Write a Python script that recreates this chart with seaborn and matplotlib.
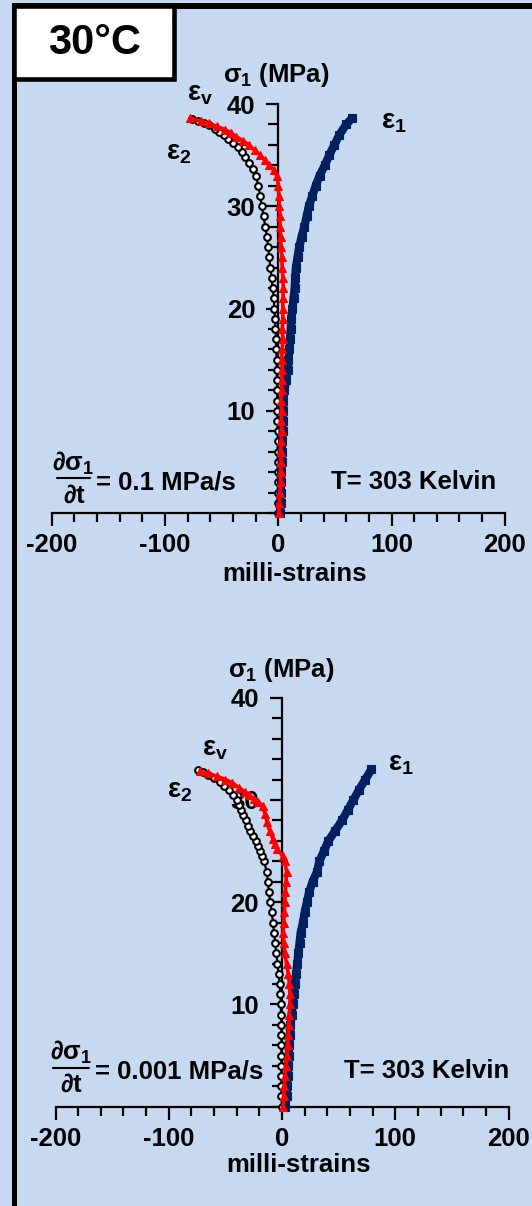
import matplotlib
matplotlib.use("Agg")
import matplotlib.pyplot as plt
from matplotlib.patches import Rectangle
from matplotlib.lines import Line2D
from matplotlib.ticker import MultipleLocator, FixedLocator
import seaborn as sns

W, H = 532, 1206
BG = "#C6D9F0"
NAVY = "#002060"
RED = "#FF0000"

# ---- data: 0.1 MPa/s loading ----
fast_sig_axial = [0, 1, 2, 3, 4, 5, 6, 7, 8, 9, 10, 11, 12, 13, 14, 15, 16, 17, 18, 19,
                  20, 21, 22, 23, 24, 25, 26, 27, 28, 29, 30, 31, 32, 33, 34, 35, 36, 37, 38, 38.6]
fast_eps_axial = [1.5, 2, 2, 2.5, 2.5, 3, 3, 3.5, 3.8, 4, 4.2, 4.5, 5.3, 7, 8.2, 9, 9.8, 10.5, 11, 11.5,
                  12.5, 13.5, 14.5, 15, 15.6, 17, 18.5, 20.5, 23, 25, 27, 30, 33, 36.5, 41, 45, 49.5, 54, 60, 65]

fast_sig_lat = [0, 1, 2, 3, 4, 5, 6, 7, 8, 9, 10, 11, 12, 13, 14, 15, 16, 17, 18, 19, 20, 21, 22,
                23, 24, 25, 26, 27, 28, 29, 30, 31, 32, 33, 33.5, 34, 34.5, 35, 35.5, 36, 36.4,
                36.8, 37.2, 37.5, 37.8, 38.1, 38.3, 38.6]
fast_eps_lat = [0.5, 1, 1.5, 2, 2, 2.5, 2, 2.5, 3, 2.5, 3, 2.5, 3, 3, 3.5, 3, 3.5, 4, 3.5, 4, 4, 4, 4.5,
                4, 3.5, 3, 2.5, 2, 1.5, 1.5, 1, 0.5, 0, -1, -4, -8, -12, -16, -21, -26, -31,
                -37, -42, -47, -54, -61, -68, -78]

fast_sig_vol = [0, 1, 2, 3, 4, 5, 6, 7, 8, 9, 10, 11, 12, 13, 14, 15, 16, 17, 18, 19, 20, 21, 22,
                23, 24, 25, 26, 27, 28, 29, 30, 31, 32, 33, 33.6, 34.2, 34.8, 35.3, 35.8, 36.2,
                36.6, 37, 37.3, 37.6, 37.9, 38.1, 38.3, 38.5]
fast_eps_vol = [0, 0, 0, -0.3, -0.3, -0.5, -0.5, -0.5, -0.5, -0.8, -0.8, -1, -1, -1.2, -1.5, -1.5,
                -1.8, -2, -2.5, -3, -3.5, -4, -5, -6, -7, -8, -9, -10, -11.5, -13, -14.5, -16, -17.5,
                -20, -22.5, -26, -29, -32, -36, -40, -44, -48, -52, -56, -61, -66, -71, -76]

# ---- data: 0.001 MPa/s loading ----
slow_sig_axial = list(range(0, 34))
slow_eps_axial = [3, 4, 4.5, 5, 5.5, 6, 6.5, 7, 7.5, 8.5, 9.5, 10.5, 11.5, 12.5, 13.5, 14.5, 15.5,
                  16.5, 18.5, 20, 22, 24, 27, 31, 33, 37, 41, 47, 53, 58, 63, 68, 73.5, 79]

slow_sig_lat = [0, 1, 2, 3, 4, 5, 6, 7, 8, 9, 10, 11, 12, 13, 14, 15, 16, 17, 18, 19, 20, 21, 22,
                23, 24, 24.5, 25.2, 25.7, 26.2, 27, 27.8, 28.6, 29.4, 29.8, 30.1, 30.5, 30.8,
                31.2, 31.7, 32, 32.3, 32.6, 32.8]
slow_eps_lat = [1, 1.5, 2, 2.5, 3.5, 4.5, 5, 5.5, 6, 6.5, 7, 7, 6.5, 5.5, 4, 2.5, 1.5, 1.2, 1.5, 2,
                2.5, 3, 3.5, 4, 2.5, 0.5, -4, -6, -8, -11, -13, -15, -17, -21, -25, -29, -33,
                -38, -44, -50, -57, -65, -72]

slow_sig_vol = [0, 1, 2, 3, 4, 5, 6, 7, 8, 9, 10, 11, 12, 13, 14, 15, 16, 17, 18, 19, 20, 21, 22,
                23, 24, 24.5, 25, 25.5, 26, 26.5, 27, 27.5, 28, 28.5, 29, 29.5, 30, 30.5, 31,
                31.4, 31.8, 32.1, 32.4, 32.7, 32.9]
slow_eps_vol = [0, -0.5, -0.5, -0.5, -0.5, -0.5, -0.5, -0.5, -0.5, -1, -1, -1.5, -2, -3, -4, -5,
                -6, -7, -8, -9, -10.5, -11.5, -12.5, -13.5, -16, -17.5, -19.5, -21, -23, -25.5,
                -28, -30, -32, -34, -36, -38, -40, -43, -47, -51, -55, -60, -65, -70, -74]

x_ticks = [-200, -100, 0, 100, 200]
x_tick_labels = ["-200", "-100", "0", "100", "200"]
y_ticks = [10, 20, 30, 40]
y_tick_labels = ["10", "20", "30", "40"]

sns.set_style("white")
plt.rcParams["font.family"] = ["Liberation Sans", "DejaVu Sans"]
plt.rcParams["font.weight"] = "bold"
for key in ["text.color", "axes.labelcolor", "xtick.color", "ytick.color"]:
    plt.rcParams[key] = "black"

fig = plt.figure(figsize=(W / 100, H / 100), dpi=100, facecolor=BG)


def fx(px):
    return px / W


def fy(py):
    return 1 - py / H


def ftext(px, py, s, **kw):
    kw.setdefault("fontsize", 18.5)
    kw.setdefault("fontweight", "bold")
    kw.setdefault("ha", "center")
    kw.setdefault("va", "center")
    kw.setdefault("color", "black")
    fig.text(fx(px), fy(py), s, **kw)


def panel(left_px, bottom_px, datasets):
    ax = fig.add_axes([fx(left_px), fy(bottom_px), 453 / W, 409 / H])
    ax.set_facecolor("none")
    ax.set_xlim(-200, 200)
    ax.set_ylim(0, 40)
    for s in ["top", "right"]:
        ax.spines[s].set_visible(False)
    ax.spines["left"].set_position(("data", 0))
    ax.spines["left"].set_bounds(0, 40)
    for s in ["left", "bottom"]:
        ax.spines[s].set_linewidth(1.6)
        ax.spines[s].set_color("black")
    ax.xaxis.set_major_locator(FixedLocator(x_ticks))
    ax.xaxis.set_minor_locator(MultipleLocator(20))
    ax.yaxis.set_major_locator(FixedLocator(y_ticks))
    ax.yaxis.set_minor_locator(MultipleLocator(2))
    ax.set_xticklabels(x_tick_labels, fontsize=18.5, fontweight="bold", color="black")
    ax.set_yticklabels(y_tick_labels, fontsize=18.5, fontweight="bold", color="black")
    ax.tick_params(axis="both", which="both", direction="out", width=1.6, color="black",
                   bottom=True, left=True)
    ax.tick_params(axis="x", which="major", length=9.5, pad=5)
    ax.tick_params(axis="x", which="minor", length=6.5)
    ax.tick_params(axis="y", which="major", length=8.5, pad=8)
    ax.tick_params(axis="y", which="minor", length=7)
    ax.set_xlabel("")
    ax.set_ylabel("")

    (sv, ev), (sl, el), (sa, ea) = datasets
    sns.lineplot(x=ev, y=sv, sort=False, estimator=None, ax=ax, color="black", lw=1.6,
                 marker="o", markersize=4.8, markerfacecolor="white", markeredgecolor="black",
                 markeredgewidth=1.5, clip_on=False, zorder=3, legend=False)
    sns.lineplot(x=el, y=sl, sort=False, estimator=None, ax=ax, color=RED, lw=2.6,
                 marker="^", markersize=6, markerfacecolor=RED, markeredgecolor=RED,
                 markeredgewidth=0.8, clip_on=False, zorder=4, legend=False)
    sns.lineplot(x=ea, y=sa, sort=False, estimator=None, ax=ax, color=NAVY, lw=6,
                 marker="s", markersize=5.5, markerfacecolor=NAVY, markeredgecolor=NAVY,
                 markeredgewidth=0.8, clip_on=False, zorder=3, legend=False)
    return ax


panel(51.8, 513, [(fast_sig_vol, fast_eps_vol), (fast_sig_lat, fast_eps_lat),
                  (fast_sig_axial, fast_eps_axial)])
panel(55.5, 1106.7, [(slow_sig_vol, slow_eps_vol), (slow_sig_lat, slow_eps_lat),
                     (slow_sig_axial, slow_eps_axial)])

# frame: left bar, top bar and temperature box
fig.add_artist(Rectangle((fx(12), fy(1206)), 4.5 / W, (1206 - 3.4) / H, transform=fig.transFigure,
                         facecolor="black", edgecolor="none"))
fig.add_artist(Rectangle((fx(12), fy(8.5)), (532 - 12) / W, 5.1 / H, transform=fig.transFigure,
                         facecolor="black", edgecolor="none"))
fig.add_artist(Rectangle((fx(14.25), fy(79.2)), 160 / W, 73.6 / H, transform=fig.transFigure,
                         facecolor="white", edgecolor="black", linewidth=3.3))
ftext(94, 43, "30°C", fontsize=30)

# axis titles and curve labels
ftext(276, 75, r"$\mathregular{\sigma_1}$ (MPa)")
ftext(295, 574, "milli-strains")
ftext(200, 94, r"$\mathregular{\varepsilon_v}$", fontsize=20)
ftext(179, 153, r"$\mathregular{\varepsilon_2}$", fontsize=20)
ftext(394, 122, r"$\mathregular{\varepsilon_1}$", fontsize=20)

ftext(281, 670, r"$\mathregular{\sigma_1}$ (MPa)")
ftext(299, 1165, "milli-strains")
ftext(215, 749, r"$\mathregular{\varepsilon_v}$", fontsize=20)
ftext(180, 791, r"$\mathregular{\varepsilon_2}$", fontsize=20)
ftext(401, 764, r"$\mathregular{\varepsilon_1}$", fontsize=20)


def rate_label(xl, xr, yline, rate_text, t_left):
    xc = (xl + xr) / 2
    ftext(xc, yline - 15, r"$\mathregular{\partial\sigma_1}$")
    fig.add_artist(Line2D([fx(xl), fx(xr)], [fy(yline), fy(yline)], transform=fig.transFigure,
                          color="black", lw=1.5))
    ftext(xc + 1, yline + 17, r"$\mathregular{\partial t}$")
    ftext(xr + 6, yline + 4, rate_text, ha="left")
    ftext(t_left, yline + 4, "T= 303 Kelvin", ha="left")


rate_label(57, 90, 478.5, "= 0.1 MPa/s", 331)
rate_label(52.6, 89, 1067.5, "= 0.001 MPa/s", 344)

fig.savefig("out.png", dpi=100, facecolor=BG)
